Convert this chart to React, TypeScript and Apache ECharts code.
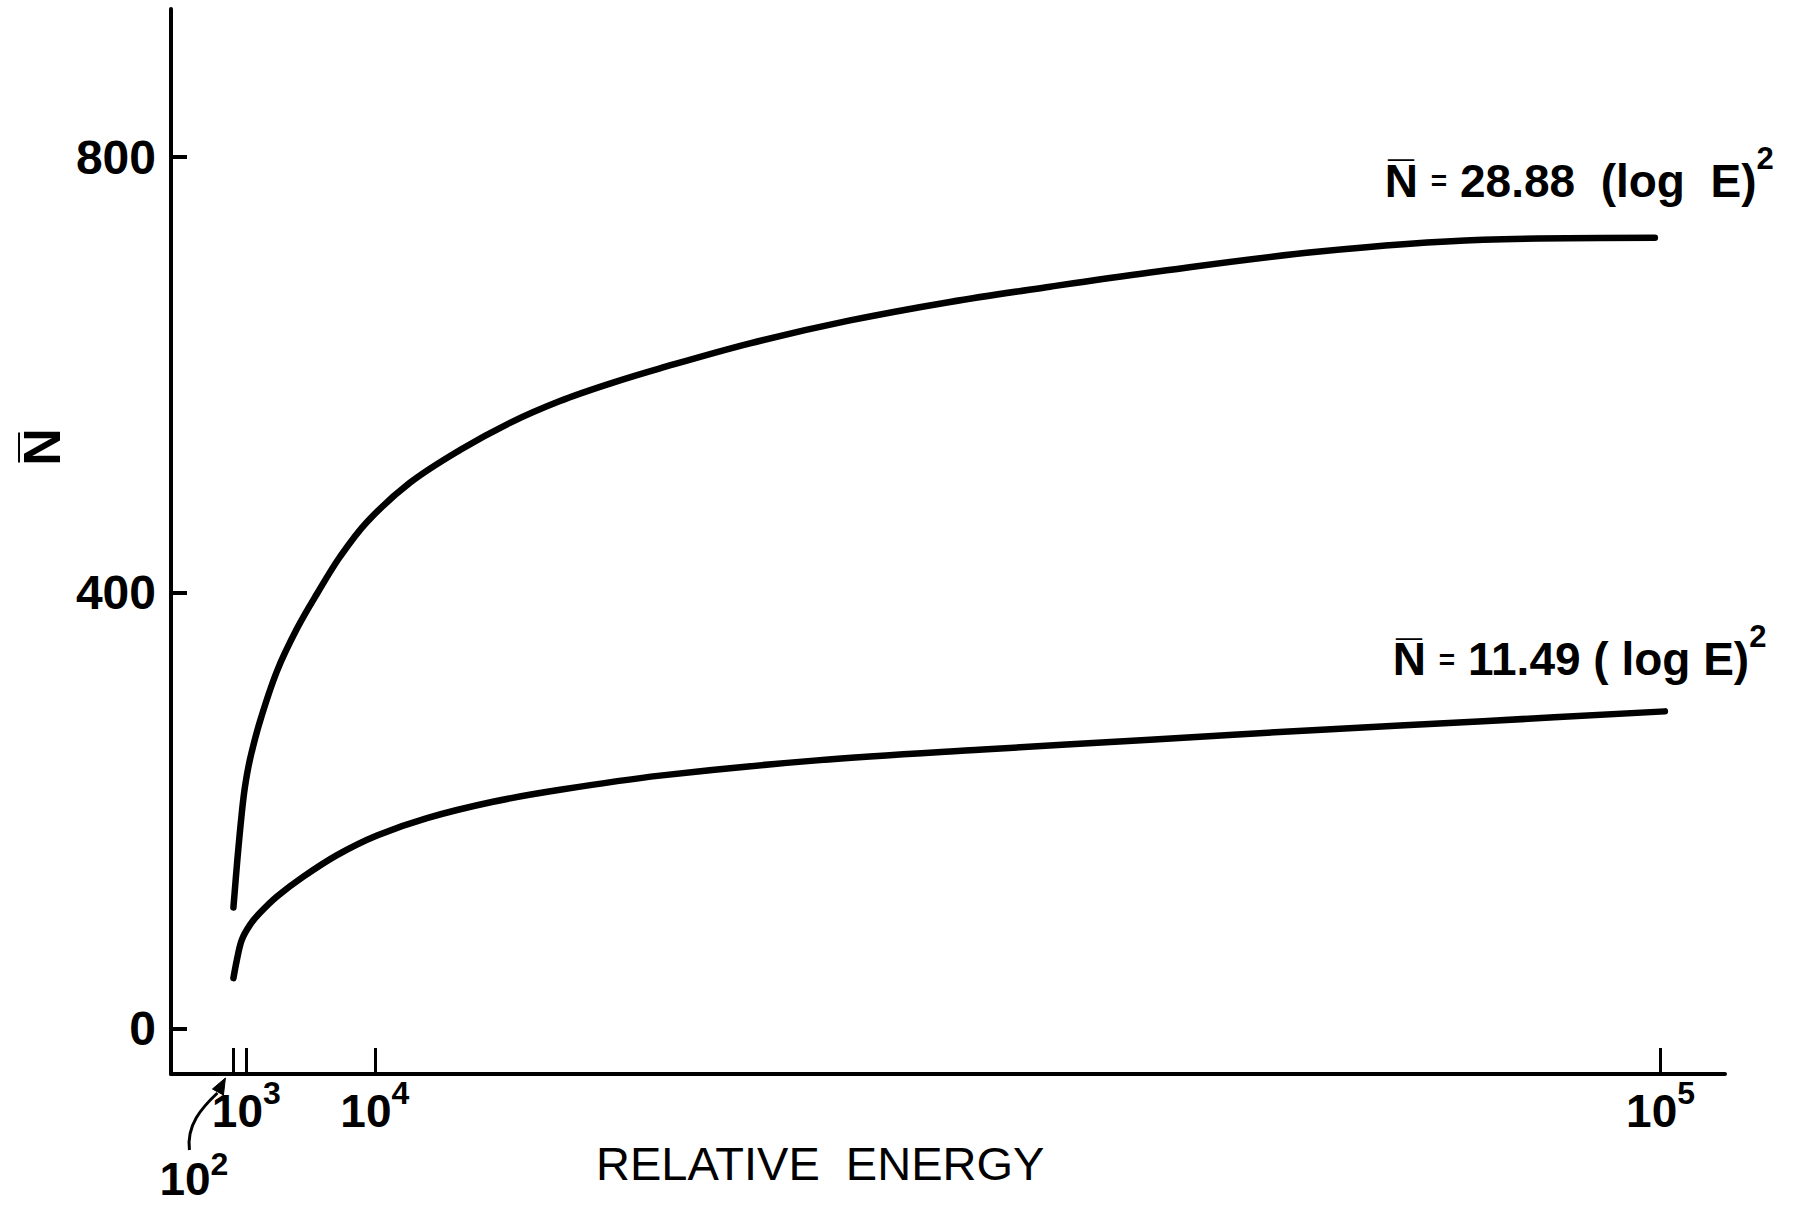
import React, { useEffect, useRef } from "react";
import * as echarts from "echarts";

// Relative energy E (x) and mean multiplicity N̄ (y)
const energyUpper = [100, 370, 680, 910, 1260, 1960, 3150, 4550, 5950, 7560, 9450, 12460, 15960, 19460, 22960, 26460, 29960, 36260, 43260, 50260, 57260, 64260, 75950, 87570, 99600];
const multiplicityUpper = [111, 154, 197, 222, 247, 282, 328, 367, 399, 433, 465, 501, 531, 556, 576, 592, 606, 629, 650, 667, 681, 694, 713, 724, 726];

const energyLower = [100, 330, 680, 1260, 1960, 3150, 4970, 7350, 10150, 13650, 18270, 22960, 29960, 40950, 52570, 64260, 75950, 87570, 100300];
const multiplicityLower = [46, 62, 81, 95, 106, 121, 139, 159, 177, 193, 208, 219, 232, 246, 256, 265, 274, 282, 291];

const xTickValues = [100, 1000, 10000, 100000];
const xLabelValues = [1000, 10000, 100000];
const yTickValues = [0, 400, 800];

const upperLabel = "{n|N\u0305 }{e|=}{n| 28.88\u00a0 (log\u00a0 E)}{s|2}";
const lowerLabel = "{n|N\u0305 }{e|=}{n| 11.49 ( log E)}{s|2}";
const xAxisTitle = "RELATIVE\u00a0 ENERGY";
const yAxisTitle = "N\u0305";

const X_MIN = -4270;
const X_MAX = 104510;
const Y_MIN = -42;
const Y_MAX = 936;

const FONT = "'Liberation Sans', Arial, Helvetica, sans-serif";

function powerLabel(v: number) {
  return `{b|10}{s|${Math.round(Math.log10(v))}}`;
}

export default function App() {
  const ref = useRef<HTMLDivElement>(null);

  useEffect(() => {
    if (!ref.current) return;
    const chart = echarts.init(ref.current, null, { renderer: "svg" });

    const line = (xs: number[], ys: number[]) => ({
      type: "line",
      data: xs.map((x, i) => [x, ys[i]]),
      smooth: 0.35,
      showSymbol: false,
      symbol: "none",
      silent: true,
      lineStyle: { color: "#000", width: 6.5, cap: "round", join: "round" },
    });

    const option: any = {
      animation: false,
      backgroundColor: "#fff",
      grid: { left: 171, right: 72, top: 9, bottom: 135, outerBoundsMode: "none" },
      xAxis: {
        type: "value",
        min: X_MIN,
        max: X_MAX,
        axisLine: { onZero: false, lineStyle: { color: "#000", width: 4 } },
        axisTick: {
          inside: true,
          length: 26,
          customValues: xTickValues,
          lineStyle: { color: "#000", width: 3 },
        },
        axisLabel: {
          customValues: xLabelValues,
          margin: 3,
          formatter: (v: number) => powerLabel(v),
          rich: {
            b: { fontSize: 46, fontWeight: "bold", fontFamily: FONT, color: "#000", lineHeight: 40, padding: [28, 0, 0, 0], verticalAlign: "middle" },
            s: { fontSize: 32, fontWeight: "bold", fontFamily: FONT, color: "#000", lineHeight: 26, verticalAlign: "top" },
          },
        },
        splitLine: { show: false },
      },
      yAxis: {
        type: "value",
        min: Y_MIN,
        max: Y_MAX,
        axisLine: { show: true, onZero: false, lineStyle: { color: "#000", width: 4 } },
        axisTick: {
          show: true,
          inside: true,
          length: 16,
          customValues: yTickValues,
          lineStyle: { color: "#000", width: 4 },
        },
        axisLabel: {
          customValues: yTickValues,
          margin: 15,
          fontSize: 48,
          fontWeight: "bold",
          fontFamily: FONT,
          color: "#000",
        },
        splitLine: { show: false },
      },
      series: [line(energyUpper, multiplicityUpper), line(energyLower, multiplicityLower)],
    };

    chart.setOption(option);

    const last = (a: number[]) => a[a.length - 1];
    const [ux, uy] = chart.convertToPixel({ gridIndex: 0 }, [last(energyUpper), last(multiplicityUpper)]) as number[];
    const [lx, ly] = chart.convertToPixel({ gridIndex: 0 }, [last(energyLower), last(multiplicityLower)]) as number[];
    const [tx, ty] = chart.convertToPixel({ gridIndex: 0 }, [xTickValues[0], Y_MIN]) as number[];

    const annRich = {
      n: { fontSize: 46, fontWeight: "bold", fontFamily: FONT, fill: "#000", lineHeight: 76, verticalAlign: "middle" },
      e: { fontSize: 28, fontWeight: "bold", fontFamily: FONT, fill: "#000", lineHeight: 76, verticalAlign: "middle" },
      s: { fontSize: 31, fontWeight: "bold", fontFamily: FONT, fill: "#000", lineHeight: 30, verticalAlign: "top" },
    };

    chart.setOption({
      graphic: [
        {
          type: "text",
          x: 42,
          y: 447,
          rotation: Math.PI / 2,
          style: { text: yAxisTitle, fontSize: 52, fontWeight: "bold", fontFamily: FONT, fill: "#000", align: "center", verticalAlign: "middle" },
        },
        {
          type: "text",
          x: 596,
          y: 1163,
          style: { text: xAxisTitle, fontSize: 47, fontFamily: FONT, fill: "#000", align: "left", verticalAlign: "middle" },
        },
        {
          type: "text",
          x: ux - 270,
          y: uy - 57,
          style: { text: upperLabel, rich: annRich, align: "left", verticalAlign: "middle" },
        },
        {
          type: "text",
          x: lx - 272,
          y: ly - 52,
          style: { text: lowerLabel, rich: annRich, align: "left", verticalAlign: "middle" },
        },
        {
          type: "text",
          x: tx - 74,
          y: ty + 94,
          style: {
            text: powerLabel(xTickValues[0]),
            align: "left",
            verticalAlign: "middle",
            rich: {
              b: { fontSize: 46, fontWeight: "bold", fontFamily: FONT, fill: "#000", lineHeight: 40, padding: [22, 0, 0, 0], verticalAlign: "middle" },
              s: { fontSize: 32, fontWeight: "bold", fontFamily: FONT, fill: "#000", lineHeight: 26, verticalAlign: "top" },
            },
          },
        },
        {
          type: "bezierCurve",
          shape: { x1: tx - 44, y1: ty + 76, cpx1: tx - 47, cpy1: ty + 51, cpx2: tx - 32, cpy2: ty + 34, x2: tx - 16, y2: ty + 19 },
          style: { stroke: "#000", lineWidth: 3, fill: null },
        },
        {
          type: "polygon",
          shape: { points: [[tx - 8, ty + 4], [tx - 10, ty + 21], [tx - 21, ty + 15]] },
          style: { fill: "#000", stroke: "#000", lineWidth: 1 },
        },
      ],
    });

    return () => chart.dispose();
  }, []);

  return (
    <div
      ref={ref}
      style={{ position: "fixed", left: 0, top: 0, width: 1797, height: 1209, background: "#fff" }}
    />
  );
}
